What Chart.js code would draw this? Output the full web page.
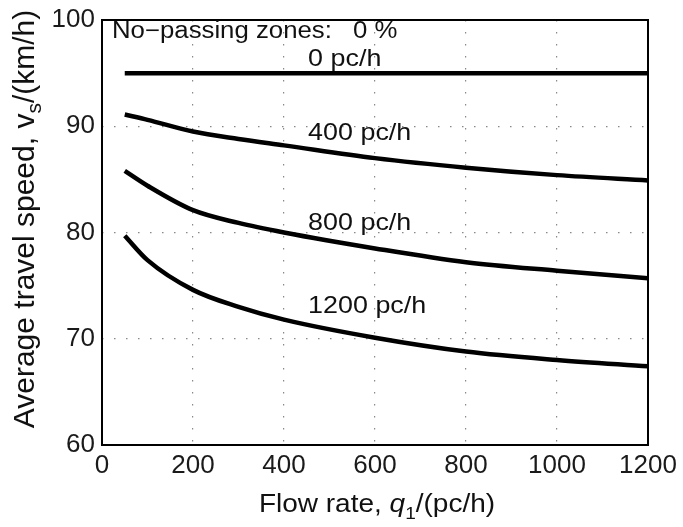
<!DOCTYPE html>
<html>
<head>
<meta charset="utf-8">
<script src="https://cdn.jsdelivr.net/npm/chart.js@4"></script>
<style>
  html, body { margin: 0; padding: 0; background: #fff; }
  #wrap { width: 683px; height: 527px; }
</style>
</head>
<body>
<div id="wrap"><canvas id="speedChart" width="683" height="527"></canvas></div>
<script>
// flow rate of the subject direction (pc/h)
const flowRates = [50, 100, 200, 300, 400, 600, 800, 1000, 1200];
// speed curves for different opposing flow rates (km/h)
const speed0 = [95, 95, 95, 95, 95, 95, 95, 95, 95];
const speed400 = [91.1, 90.6, 89.5, 88.8, 88.2, 87.0, 86.1, 85.4, 84.9];
const speed800 = [85.8, 84.4, 82.1, 80.9, 80.0, 78.5, 77.2, 76.4, 75.7];
const speed1200 = [79.7, 77.4, 74.6, 73.0, 71.8, 70.1, 68.8, 68.0, 67.4];
const xTicks = [0, 200, 400, 600, 800, 1000, 1200];
const yTicks = [60, 70, 80, 90, 100];

// curve labels, left edge placed in data units
const curveLabels = [
  { text: '0 pc/h', x: 453, y: 96.25 },
  { text: '400 pc/h', x: 453, y: 89.35 },
  { text: '800 pc/h', x: 453, y: 80.9 },
  { text: '1200 pc/h', x: 453, y: 73.05 }
];

const FONT = '"Liberation Sans", Arial, sans-serif';
const STRETCH = 1.12; // reference text is a bit wider than the font

function series(ys) {
  return flowRates.map((x, i) => ({ x: x, y: ys[i] }));
}

// draw text stretched horizontally, left aligned at (x, y)
function wideText(ctx, text, x, y) {
  ctx.save();
  ctx.translate(x, y);
  ctx.scale(STRETCH, 1);
  ctx.fillText(text, 0, 0);
  ctx.restore();
  return ctx.measureText(text).width * STRETCH;
}

// frame, curve labels and axis titles (titles need subscripts)
const decorPlugin = {
  id: 'decor',
  afterDraw(chart) {
    const ctx = chart.ctx;
    const a = chart.chartArea;
    const xs = chart.scales.x, ys = chart.scales.y;
    ctx.save();
    ctx.strokeStyle = '#000';
    ctx.lineWidth = 2;
    ctx.strokeRect(a.left, a.top, a.right - a.left, a.bottom - a.top);

    ctx.fillStyle = '#111';
    ctx.textBaseline = 'middle';
    ctx.textAlign = 'left';
    ctx.font = '23px ' + FONT;
    wideText(ctx, 'No\u2212passing zones:', a.left + 10, a.top + 12);
    wideText(ctx, '0 %', a.left + 251, a.top + 12);
    ctx.font = '24px ' + FONT;
    curveLabels.forEach(l => {
      wideText(ctx, l.text, xs.getPixelForValue(l.x), ys.getPixelForValue(l.y));
    });

    // x title: Flow rate, q1/(pc/h)
    ctx.textBaseline = 'alphabetic';
    const big = '25px ' + FONT, small = '17px ' + FONT, ital = 'italic 25px ' + FONT;
    ctx.font = big;
    const w1 = ctx.measureText('Flow rate, ').width * STRETCH;
    const w3 = ctx.measureText('/(pc/h)').width * STRETCH;
    ctx.font = ital;
    const wq = ctx.measureText('q').width * STRETCH;
    ctx.font = small;
    const ws = ctx.measureText('1').width * STRETCH;
    let tx = (a.left + a.right) / 2 + 2 - (w1 + wq + ws + w3) / 2;
    const ty = 512;
    ctx.font = big;
    tx += wideText(ctx, 'Flow rate, ', tx, ty);
    ctx.font = ital;
    tx += wideText(ctx, 'q', tx, ty);
    ctx.font = small;
    tx += wideText(ctx, '1', tx, ty + 7);
    ctx.font = big;
    wideText(ctx, '/(pc/h)', tx, ty);

    // y title: Average travel speed, vs/(km/h)
    ctx.translate(34, 219);
    ctx.rotate(-Math.PI / 2);
    const yBig = '30px ' + FONT, ySmall = '21px ' + FONT;
    ctx.font = yBig;
    const wa = ctx.measureText('Average travel speed, v').width;
    const wc = ctx.measureText('/(km/h)').width;
    ctx.font = ySmall;
    const wb = ctx.measureText('s').width;
    let ux = -(wa + wb + wc) / 2;
    ctx.font = yBig;
    ctx.fillText('Average travel speed, v', ux, 0); ux += wa;
    ctx.font = ySmall;
    ctx.fillText('s', ux, 7); ux += wb;
    ctx.font = yBig;
    ctx.fillText('/(km/h)', ux, 0);
    ctx.restore();
  }
};

const lineStyle = {
  borderColor: '#000', borderWidth: 4.5, pointRadius: 0,
  cubicInterpolationMode: 'monotone', fill: false
};

new Chart(document.getElementById('speedChart').getContext('2d'), {
  type: 'line',
  data: {
    datasets: [
      Object.assign({ label: '0 pc/h', data: series(speed0) }, lineStyle),
      Object.assign({ label: '400 pc/h', data: series(speed400) }, lineStyle),
      Object.assign({ label: '800 pc/h', data: series(speed800) }, lineStyle),
      Object.assign({ label: '1200 pc/h', data: series(speed1200) }, lineStyle)
    ]
  },
  options: {
    responsive: false,
    animation: false,
    layout: { padding: { top: 17, right: 35, left: 0, bottom: 0 } },
    plugins: { legend: { display: false }, tooltip: { enabled: false } },
    scales: {
      x: {
        type: 'linear', min: 0, max: 1200,
        afterBuildTicks: s => { s.ticks = xTicks.map(v => ({ value: v })); },
        afterFit: s => { s.height = 82; },
        ticks: {
          color: '#1a1a1a', font: { family: FONT, size: 26 }, padding: 5, maxRotation: 0,
          callback: v => String(v)
        },
        grid: { color: '#888', lineWidth: 1.2, drawTicks: false },
        border: { display: false, dash: [1.5, 10.5] }
      },
      y: {
        min: 60, max: 100,
        afterBuildTicks: s => { s.ticks = yTicks.map(v => ({ value: v })); },
        afterFit: s => { s.width = 102; },
        ticks: { color: '#1a1a1a', font: { family: FONT, size: 26, lineHeight: 1 }, padding: 7 },
        grid: { color: '#888', lineWidth: 1.2, drawTicks: false },
        border: { display: false, dash: [1.5, 10.5] }
      }
    }
  },
  plugins: [decorPlugin]
});
</script>
</body>
</html>
